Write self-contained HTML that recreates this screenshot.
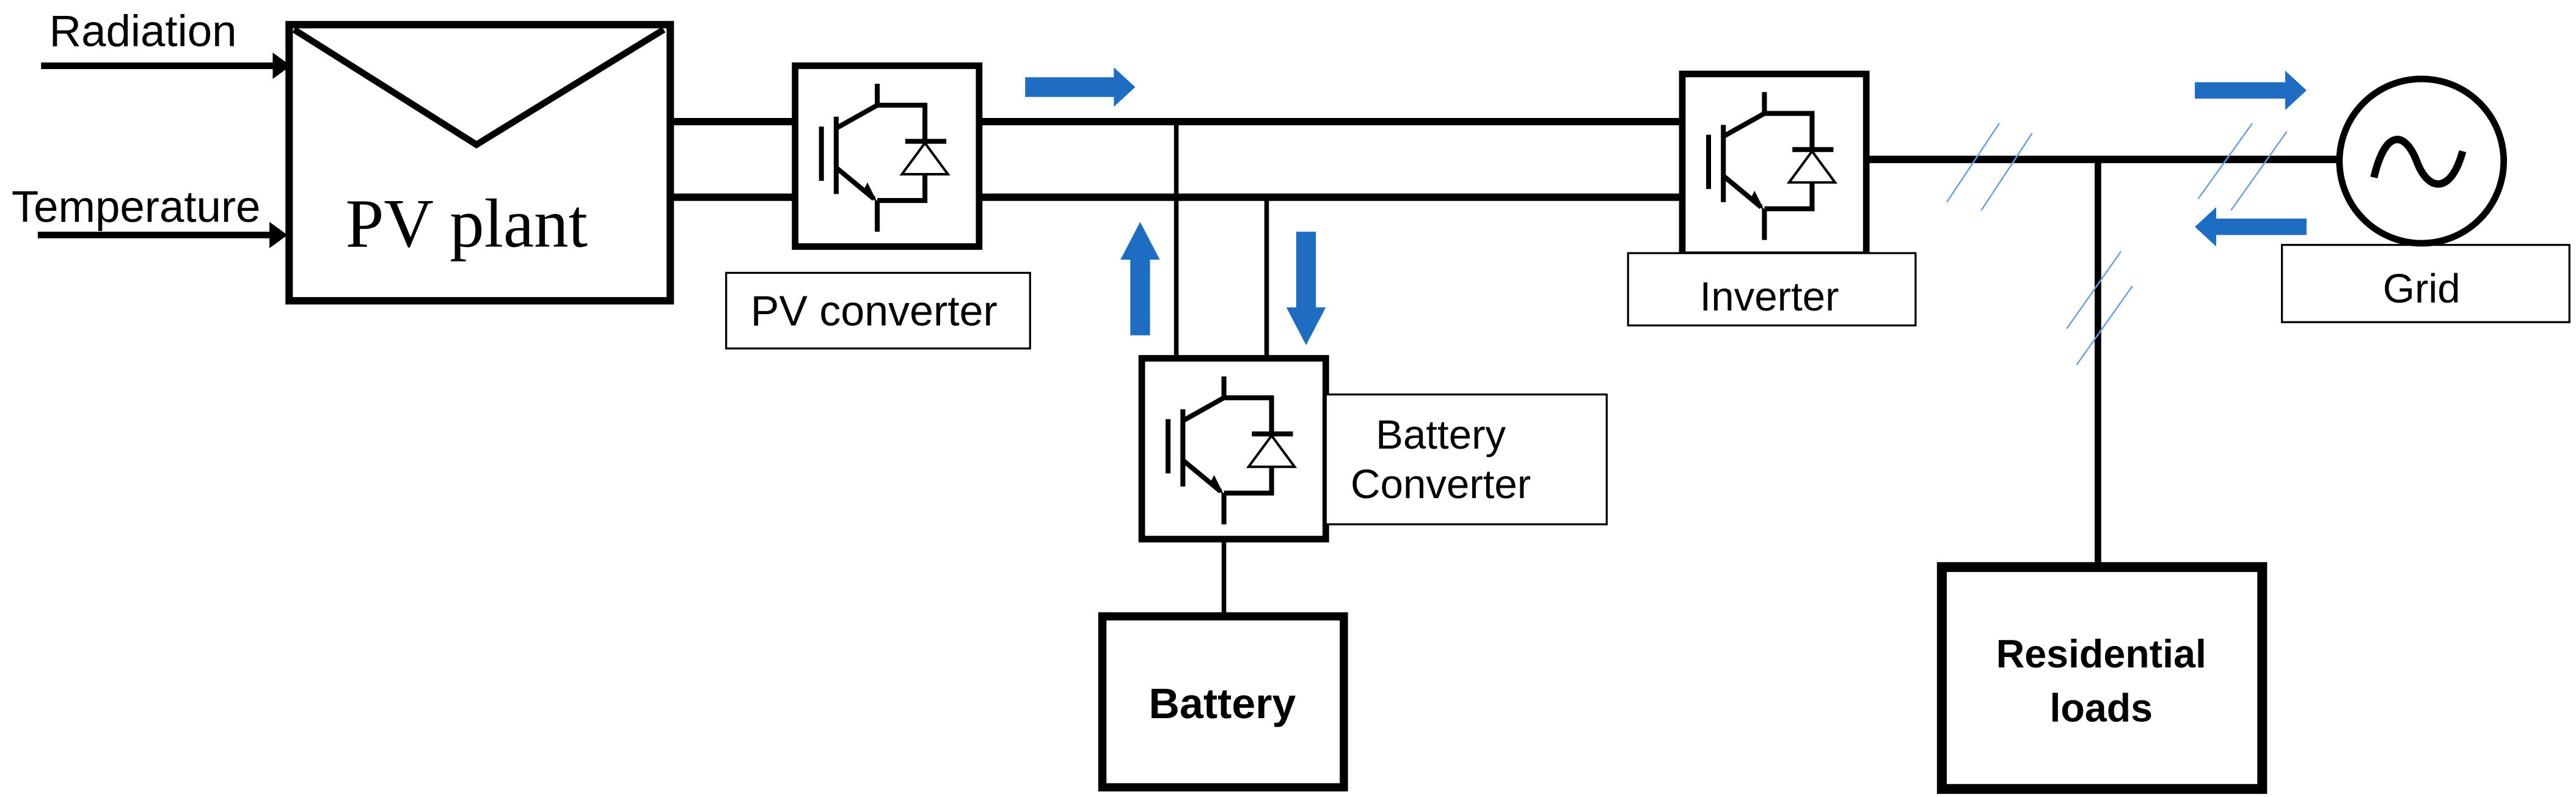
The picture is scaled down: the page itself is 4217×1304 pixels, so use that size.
<!DOCTYPE html>
<html><head><meta charset="utf-8"><style>
html,body{margin:0;padding:0;background:#fff;}
svg{display:block;}
text{font-family:"Liberation Sans",sans-serif;fill:#000;}
</style></head><body>
<svg width="4217" height="1304" viewBox="0 0 1568 484.9" preserveAspectRatio="none" xmlns="http://www.w3.org/2000/svg">
<defs>
<g id="conv">
  <rect x="0" y="0" width="112" height="110" fill="#fff" stroke="#000" stroke-width="4"/>
  <g stroke="#000" stroke-width="3" fill="none">
    <line x1="16" y1="37" x2="16" y2="70"/>
    <line x1="25" y1="31" x2="25" y2="78"/>
    <line x1="25" y1="38" x2="50" y2="24"/>
    <line x1="50" y1="11" x2="50" y2="24"/>
    <polyline points="50,24 79,24 79,82 50,82"/>
    <line x1="25" y1="62" x2="48" y2="81"/>
    <line x1="50" y1="82" x2="50" y2="101"/>
    <line x1="67" y1="46" x2="92" y2="46"/>
  </g>
  <polygon points="41,77 50,83 44,71" fill="#000"/>
  <polygon points="79,47 65,66 93,66" fill="#fff" stroke="#000" stroke-width="1.5"/>
</g>
</defs>

<text x="30" y="28" font-size="27">Radiation</text>
<line x1="25" y1="40" x2="168" y2="40" stroke="#000" stroke-width="4"/>
<polygon points="166,32 177,40 166,48" fill="#000"/>
<text x="7" y="135" font-size="27">Temperature</text>
<line x1="23" y1="143" x2="166" y2="143" stroke="#000" stroke-width="4"/>
<polygon points="164,135 175,143 164,151" fill="#000"/>

<rect x="176" y="15" width="232" height="168" fill="#fff" stroke="#000" stroke-width="4.5"/>
<polyline points="179,18 290,88 404,18" fill="none" stroke="#000" stroke-width="4"/>
<text x="284" y="150" font-size="42" text-anchor="middle" style="font-family:'Liberation Serif',serif">PV plant</text>

<g stroke="#000" stroke-width="4.5">
<line x1="408" y1="74" x2="485" y2="74"/>
<line x1="408" y1="120" x2="485" y2="120"/>
<line x1="595" y1="74" x2="1024" y2="74"/>
<line x1="595" y1="120" x2="1024" y2="120"/>
<line x1="1136" y1="97" x2="1425" y2="97"/>
</g>
<g stroke="#000" stroke-width="2.8">
<line x1="716" y1="74" x2="716" y2="219"/>
<line x1="771" y1="120" x2="771" y2="219"/>
<line x1="745" y1="326" x2="745" y2="374"/>
</g>
<line x1="1277" y1="97" x2="1277" y2="343" stroke="#000" stroke-width="4"/>

<use href="#conv" x="484" y="40"/>
<use href="#conv" x="1024" y="45"/>
<use href="#conv" x="695" y="218"/>

<rect x="442" y="166" width="185" height="46" fill="#fff" stroke="#000" stroke-width="1.2"/>
<text x="532" y="198" font-size="26" text-anchor="middle">PV converter</text>
<rect x="991" y="154" width="175" height="44" fill="#fff" stroke="#000" stroke-width="1.2"/>
<text x="1077" y="189" font-size="25" text-anchor="middle">Inverter</text>
<rect x="807" y="240" width="171" height="79" fill="#fff" stroke="#000" stroke-width="1.2"/>
<text x="877" y="273" font-size="25" text-anchor="middle">Battery</text>
<text x="877" y="303" font-size="25" text-anchor="middle">Converter</text>
<rect x="1389" y="149" width="175" height="47" fill="#fff" stroke="#000" stroke-width="1.2"/>
<text x="1474" y="184" font-size="25" text-anchor="middle">Grid</text>

<rect x="671" y="375" width="147" height="104" fill="#fff" stroke="#000" stroke-width="5"/>
<text x="744" y="437" font-size="26" font-weight="bold" text-anchor="middle">Battery</text>

<rect x="1182" y="345" width="195" height="135" fill="#fff" stroke="#000" stroke-width="6"/>
<text x="1279" y="406" font-size="24" font-weight="bold" text-anchor="middle">Residential</text>
<text x="1279" y="439" font-size="24" font-weight="bold" text-anchor="middle">loads</text>

<circle cx="1474" cy="98" r="50" fill="#fff" stroke="#000" stroke-width="4"/>
<path d="M1445,108 C1452,78 1464,80 1471,98 C1478,117 1492,118 1499,92" fill="none" stroke="#000" stroke-width="4.5"/>

<g stroke="#6a9ee0" stroke-width="0.9">
<line x1="1185" y1="123" x2="1217" y2="75"/>
<line x1="1206" y1="128" x2="1237" y2="81"/>
<line x1="1338" y1="121" x2="1371" y2="75"/>
<line x1="1358" y1="128" x2="1392" y2="80"/>
<line x1="1258" y1="200" x2="1291" y2="153"/>
<line x1="1264" y1="222" x2="1298" y2="174"/>
</g>

<g fill="#1f6dc2">
<polygon points="624,47 678,47 678,41 691,53 678,65 678,59 624,59"/>
<polygon points="688,204 688,158 682,158 694,135 706,158 700,158 700,204"/>
<polygon points="789,141 801,141 801,187 807,187 795,210 783,187 789,187"/>
<polygon points="1336,50 1391,50 1391,43 1404,55 1391,67 1391,60 1336,60"/>
<polygon points="1404,133 1349,133 1349,126 1336,138 1349,150 1349,143 1404,143"/>
</g>
</svg>
</body></html>
